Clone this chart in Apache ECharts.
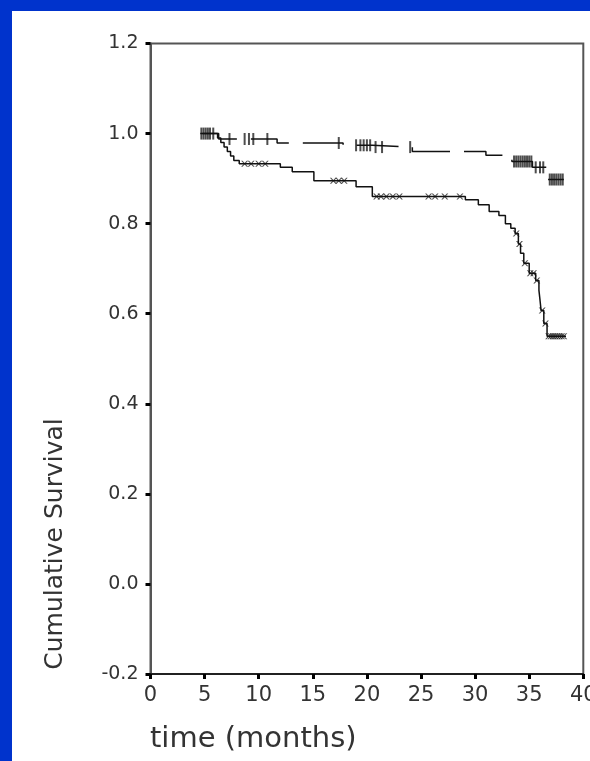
<!DOCTYPE html>
<html>
<head>
<meta charset="utf-8">
<script src="https://cdn.jsdelivr.net/npm/echarts@6/dist/echarts.min.js"></script>
<style>
  html, body { margin: 0; padding: 0; background: #0033cc; overflow: hidden; }
  #chart { position: absolute; left: 12px; top: 11px; width: 578px; height: 750px; background: #fff; }
</style>
</head>
<body>
<div id="chart"></div>
<script>
// group 1 (dashed) - step times / survival
const upperTime = [4.6, 6.3, 11.7, 17.8, 20.5, 24.2, 31.0, 32.8, 33.4, 35.3, 36.6, 38.2]
const upperSurv = [1.0, 0.988, 0.979, 0.974, 0.970, 0.960, 0.952, 0.945, 0.938, 0.925, 0.898, 0.898]
// group 2 (solid)
const lowerTime = [4.8, 6.2, 6.5, 6.8, 7.1, 7.4, 7.7, 8.2, 12.0, 13.1, 15.1, 19.0, 20.5, 29.1, 30.3, 31.3, 32.2, 32.8, 33.3, 33.7, 34.0, 34.2, 34.5, 35.0, 35.6, 35.9, 36.0, 36.1, 36.35, 36.65, 38.4]
const lowerSurv = [1.0, 0.99, 0.98, 0.97, 0.96, 0.95, 0.94, 0.933, 0.925, 0.915, 0.895, 0.882, 0.860, 0.853, 0.842, 0.827, 0.818, 0.80, 0.79, 0.778, 0.755, 0.734, 0.712, 0.69, 0.674, 0.652, 0.63, 0.607, 0.578, 0.55, 0.55]
// censored times
const upperCensor = [4.7, 4.9, 5.1, 5.3, 5.5, 5.8, 7.3, 8.7, 9.1, 9.5, 10.8, 17.4, 19.0, 19.4, 19.7, 20.0, 20.3, 20.8, 21.4, 24.0,
  33.6, 33.8, 34.0, 34.2, 34.4, 34.6, 34.8, 35.0, 35.2, 35.6, 36.0, 36.3, 36.9, 37.1, 37.3, 37.5, 37.7, 37.9, 38.1]
const lowerCensor = [8.7, 9.3, 10.0, 10.6, 16.9, 17.4, 17.9, 20.9, 21.3, 21.8, 22.4, 23.0, 25.7, 26.3, 27.2, 28.6,
  33.8, 34.1, 34.6, 35.1, 35.4, 35.7, 36.2, 36.5, 36.8, 37.0, 37.2, 37.4, 37.6, 37.8, 38.0, 38.2]

const xTicks = { min: 0, max: 40, interval: 5 }
const yTicks = { min: -0.2, max: 1.2, interval: 0.2 }

const FONT = 'DejaVu Sans'

function survAt(times, surv, t) {
  let s = surv[0]
  for (let i = 0; i < times.length; i++) {
    if (times[i] <= t) s = surv[i]
  }
  return s
}

const chart = echarts.init(document.getElementById('chart'))
chart.setOption({
  animation: false,
  grid: {
    left: 138.5, right: 6.7, top: 32.5, bottom: 87,
    outerBoundsMode: 'none', containLabel: false,
    show: true, borderColor: '#555', borderWidth: 2
  },
  xAxis: {
    type: 'value',
    min: xTicks.min, max: xTicks.max, interval: xTicks.interval,
    axisLine: { onZero: false, lineStyle: { color: '#111', width: 1.5 } },
    axisTick: { show: true, length: 5, lineStyle: { color: '#000', width: 3 } },
    axisLabel: { color: '#333', fontFamily: FONT, fontSize: 21, margin: 11 },
    splitLine: { show: false }
  },
  yAxis: {
    type: 'value',
    min: yTicks.min, max: yTicks.max, interval: yTicks.interval,
    axisLine: { show: true, lineStyle: { color: '#555', width: 2 } },
    axisTick: { show: true, length: 5, lineStyle: { color: '#000', width: 3 } },
    axisLabel: { color: '#333', fontFamily: FONT, fontSize: 19, margin: 12, formatter: v => v.toFixed(1) },
    splitLine: { show: false }
  },
  graphic: [
    {
      type: 'text', left: 138, top: 714,
      style: { text: 'time (months)', fontFamily: FONT, fontSize: 29, fill: '#333' }
    },
    {
      type: 'text', x: 43, y: 533, rotation: Math.PI / 2,
      style: { text: 'Cumulative Survival', fontFamily: FONT, fontSize: 25, fill: '#333', align: 'center', verticalAlign: 'middle' }
    }
  ],
  series: [
    {
      type: 'line', step: 'end', showSymbol: false,
      data: lowerTime.map((t, i) => [t, lowerSurv[i]]),
      lineStyle: { color: '#111', width: 1.5 }
    },
    {
      type: 'line', step: 'end', showSymbol: false,
      data: upperTime.map((t, i) => [t, upperSurv[i]]),
      lineStyle: { color: '#111', width: 1.5, type: [42, 14] }
    },
    {
      type: 'scatter',
      data: upperCensor.map(t => [t, survAt(upperTime, upperSurv, t)]),
      symbol: 'rect', symbolSize: [2, 12],
      itemStyle: { color: '#222' }
    },
    {
      type: 'scatter',
      data: lowerCensor.map(t => [t, survAt(lowerTime, lowerSurv, t)]),
      symbol: 'path://M0,0 L2,0 L10,10 L8,10 Z M8,0 L10,0 L2,10 L0,10 Z',
      symbolSize: [7, 6],
      itemStyle: { color: '#222' }
    }
  ]
})
</script>
</body>
</html>
